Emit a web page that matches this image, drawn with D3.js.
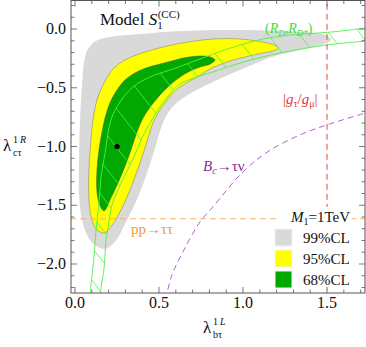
<!DOCTYPE html>
<html><head><meta charset="utf-8">
<script src="https://cdn.jsdelivr.net/npm/d3@7"></script>
<style>
html,body{margin:0;padding:0;background:#fff;}
text{font-family:"Liberation Serif","Times New Roman",serif;}
</style></head>
<body><svg id="c" width="366" height="347"></svg>
<script>
// ---------- data ----------
const grayRegion = [[0.179,-1.871],[0.125,-1.845],[0.077,-1.769],[0.042,-1.624],[0.024,-1.412],[0.024,-1.114],[0.030,-0.774],[0.042,-0.476],[0.054,-0.281],[0.077,-0.170],[0.125,-0.102],[0.208,-0.068],[0.387,-0.043],[0.637,-0.017],[0.923,-0.0085],[1.220,-0.017],[1.429,-0.034],[1.506,-0.060],[1.524,-0.094],[1.482,-0.128],[1.339,-0.179],[1.190,-0.230],[1.024,-0.323],[0.821,-0.451],[0.643,-0.587],[0.565,-0.689],[0.518,-0.816],[0.482,-0.986],[0.435,-1.199],[0.375,-1.429],[0.304,-1.641],[0.238,-1.811]];
const yellowRegion = [[0.173,-1.735],[0.131,-1.709],[0.101,-1.624],[0.083,-1.454],[0.083,-1.199],[0.095,-0.944],[0.107,-0.774],[0.131,-0.604],[0.161,-0.493],[0.196,-0.400],[0.238,-0.323],[0.298,-0.264],[0.363,-0.221],[0.500,-0.162],[0.637,-0.119],[0.821,-0.085],[0.982,-0.085],[1.119,-0.111],[1.185,-0.136],[1.208,-0.162],[1.179,-0.187],[1.119,-0.204],[1.012,-0.238],[0.923,-0.272],[0.815,-0.332],[0.726,-0.408],[0.625,-0.493],[0.577,-0.553],[0.536,-0.629],[0.494,-0.714],[0.464,-0.799],[0.435,-0.927],[0.399,-1.088],[0.357,-1.259],[0.315,-1.412],[0.274,-1.539],[0.226,-1.658]];
const greenRegion = [[0.173,-1.548],[0.149,-1.505],[0.131,-1.386],[0.131,-1.199],[0.143,-1.029],[0.161,-0.876],[0.179,-0.757],[0.208,-0.629],[0.250,-0.519],[0.298,-0.434],[0.357,-0.374],[0.423,-0.332],[0.506,-0.298],[0.577,-0.272],[0.643,-0.247],[0.744,-0.230],[0.804,-0.238],[0.833,-0.264],[0.804,-0.298],[0.744,-0.323],[0.685,-0.357],[0.625,-0.408],[0.565,-0.476],[0.506,-0.561],[0.452,-0.655],[0.405,-0.757],[0.369,-0.876],[0.333,-1.029],[0.298,-1.165],[0.256,-1.310],[0.214,-1.437]];
const bandInner = [[0.089,-2.253],[0.113,-1.939],[0.125,-1.709],[0.143,-1.480],[0.155,-1.259],[0.179,-1.054],[0.214,-0.774],[0.268,-0.621],[0.345,-0.493],[0.446,-0.408],[0.565,-0.349],[0.696,-0.281],[0.839,-0.204],[0.982,-0.136],[1.119,-0.085],[1.280,-0.051],[1.518,-0.026],[1.732,0.0085]];
const bandOuter = [[0.149,-2.253],[0.173,-2.032],[0.185,-1.794],[0.202,-1.641],[0.220,-1.497],[0.256,-1.369],[0.304,-1.224],[0.351,-1.088],[0.393,-0.944],[0.440,-0.816],[0.494,-0.689],[0.554,-0.570],[0.625,-0.468],[0.726,-0.408],[0.839,-0.357],[0.982,-0.289],[1.220,-0.204],[1.500,-0.136],[1.732,-0.102]];
const bcCurve = [[0.540,-2.30],[0.575,-2.10],[0.643,-1.896],[0.744,-1.641],[0.821,-1.514],[0.988,-1.233],[1.137,-1.054],[1.339,-0.901],[1.536,-0.799],[1.74,-0.71]];
const bestFit = [0.25,-1.0];
const ppLimit = -1.615;
const gtauLimit = 1.5;
const xTickVals = [0, 0.5, 1.0, 1.5];
const xTickLabels = ["0.0","0.5","1.0","1.5"];
const yTickVals = [0, -0.5, -1.0, -1.5, -2.0];
const yTickLabels = ["0.0","\u22120.5","\u22121.0","\u22121.5","\u22122.0"];
const legendLabels = ["99%CL","95%CL","68%CL"];
const legendColors = ["#d9d9d9","#ffff00","#00a800"];

// ---------- scales ----------
const svg = d3.select("#c");
const L=71, R=365, T=0.5, B=293;
const x = d3.scaleLinear().domain([-0.0238,1.726]).range([L,R]);
const y = d3.scaleLinear().domain([-2.247,0.243]).range([B,T]);

svg.append("defs").append("clipPath").attr("id","clip")
  .append("rect").attr("x",L).attr("y",T).attr("width",R-L).attr("height",B-T);
const g = svg.append("g").attr("clip-path","url(#clip)");

const closed = d3.line().x(d=>x(d[0])).y(d=>y(d[1])).curve(d3.curveCatmullRomClosed.alpha(0.5));
const open = d3.line().x(d=>x(d[0])).y(d=>y(d[1])).curve(d3.curveCatmullRom.alpha(0.5));

g.append("path").attr("d",closed(grayRegion)).attr("fill","#d9d9d9").attr("stroke","none");
g.append("path").attr("d",closed(yellowRegion)).attr("fill","#ffff00").attr("stroke","#8a8a6a").attr("stroke-width",0.6);
g.append("path").attr("d",closed(greenRegion)).attr("fill","#00a800").attr("stroke","#3a6a3a").attr("stroke-width",0.6);

// band lines
const bandColor="#4cf04c";
const pin = g.append("path").attr("d",open(bandInner)).attr("fill","none").attr("stroke",bandColor).attr("stroke-width",0.9);
const pout = g.append("path").attr("d",open(bandOuter)).attr("fill","none").attr("stroke",bandColor).attr("stroke-width",0.9);
// hatches
(function(){
  const ni=pin.node(), no=pout.node();
  const Li=ni.getTotalLength(), Lo=no.getTotalLength();
  const outs=[]; for(let s=0;s<=Lo;s+=0.5) outs.push(no.getPointAtLength(s));
  const ang=52*Math.PI/180, dx=Math.cos(ang), dy=Math.sin(ang);
  for(let s=14;s<Li;s+=29){
    const p=ni.getPointAtLength(s);
    let best=null,bd=1e9;
    outs.forEach(q=>{
      const vx=q.x-p.x, vy=q.y-p.y;
      const t=vx*dx+vy*dy; if(t<=0||t>45) return;
      const perp=Math.abs(vx*dy-vy*dx);
      if(perp<bd){bd=perp;best=q;}
    });
    if(best && bd<1.5) g.append("line").attr("x1",p.x).attr("y1",p.y).attr("x2",best.x).attr("y2",best.y)
      .attr("stroke",bandColor).attr("stroke-width",0.8);
  }
})();

// constraint lines
g.append("line").attr("x1",x(-0.03)).attr("x2",x(1.8)).attr("y1",y(ppLimit)).attr("y2",y(ppLimit))
  .attr("stroke","#f7b36a").attr("stroke-width",1).attr("stroke-dasharray","6,4");
g.append("line").attr("x1",x(gtauLimit)).attr("x2",x(gtauLimit)).attr("y1",y(0.3)).attr("y2",y(-2.3))
  .attr("stroke","#e84848").attr("stroke-width",1).attr("stroke-dasharray","6,4");
g.append("path").attr("d",open(bcCurve)).attr("fill","none").attr("stroke","#b064cc").attr("stroke-width",1).attr("stroke-dasharray","6,4");

g.append("circle").attr("cx",x(bestFit[0])).attr("cy",y(bestFit[1])).attr("r",2.6).attr("fill","#000");

// labels in plot
const t1 = svg.append("text").attr("x",100).attr("y",25).attr("font-size",17).attr("fill","#111");
t1.append("tspan").text("Model ");
t1.append("tspan").attr("font-style","italic").text("S");
t1.append("tspan").attr("font-size",11).attr("dy",4).text("1");
t1.append("tspan").attr("font-size",11).attr("dy",-11).attr("dx",-5).text("(CC)");

const t2 = svg.append("text").attr("x",265).attr("y",33).attr("font-size",14).attr("fill","#3de03d");
t2.append("tspan").text("(");
t2.append("tspan").attr("font-style","italic").text("R");
t2.append("tspan").attr("font-style","italic").attr("font-size",9).attr("dy",3).text("D");
t2.append("tspan").attr("dy",-3).text(",");
t2.append("tspan").attr("font-style","italic").text("R");
t2.append("tspan").attr("font-style","italic").attr("font-size",9).attr("dy",3).text("D*");
t2.append("tspan").attr("dy",-3).text(")");

const t3 = svg.append("text").attr("x",283).attr("y",104).attr("font-size",15).attr("fill","#e03a3a");
t3.append("tspan").text("|");
t3.append("tspan").attr("font-style","italic").text("g");
t3.append("tspan").attr("font-size",10).attr("dy",3).text("τ");
t3.append("tspan").attr("dy",-3).text("/");
t3.append("tspan").attr("font-style","italic").text("g");
t3.append("tspan").attr("font-size",10).attr("dy",3).text("μ");
t3.append("tspan").attr("dy",-3).text("|");

const t4 = svg.append("text").attr("x",203).attr("y",171).attr("font-size",15).attr("fill","#8a2a9a");
t4.append("tspan").attr("font-style","italic").text("B");
t4.append("tspan").attr("font-style","italic").attr("font-size",10).attr("dy",3).text("c");
t4.append("tspan").attr("dy",-3).text("→τν");

svg.append("text").attr("x",131).attr("y",234).attr("font-size",15).attr("fill","#f09a3a").text("pp→ττ");

// legend
const lg = svg.append("g");
lg.append("rect").attr("x",279).attr("y",207).attr("width",73).attr("height",82).attr("fill","#fff");
const t5 = lg.append("text").attr("x",350).attr("y",222).attr("font-size",15).attr("text-anchor","end").attr("fill","#111");
t5.append("tspan").attr("font-style","italic").text("M");
t5.append("tspan").attr("font-size",10).attr("dy",3).text("1");
t5.append("tspan").attr("dy",-3).text("=1TeV");
legendLabels.forEach((lab,i)=>{
  lg.append("rect").attr("x",275).attr("y",229+i*21).attr("width",17).attr("height",17)
    .attr("fill",legendColors[i]).attr("stroke","#f4f4f4").attr("stroke-width",1);
  lg.append("text").attr("x",303).attr("y",243+i*21).attr("font-size",15).attr("fill","#111").text(lab);
});

// frame & ticks
svg.append("rect").attr("x",L).attr("y",T).attr("width",R-L).attr("height",B-T).attr("fill","none").attr("stroke","#555").attr("stroke-width",1);
const tk = svg.append("g").attr("stroke","#555").attr("stroke-width",0.8);
d3.range(0,1.75,0.1).forEach(v=>{
  const maj = Math.abs(v*2-Math.round(v*2))<1e-6; const len = maj?6:3.5;
  const px=x(v);
  tk.append("line").attr("x1",px).attr("x2",px).attr("y1",B).attr("y2",B-len);
  tk.append("line").attr("x1",px).attr("x2",px).attr("y1",T).attr("y2",T+len);
});
d3.range(0.2,-2.25,-0.1).forEach(v=>{
  const maj = Math.abs(v*2-Math.round(v*2))<1e-6; const len = maj?6:3.5;
  const py=y(v);
  tk.append("line").attr("y1",py).attr("y2",py).attr("x1",L).attr("x2",L+len);
  tk.append("line").attr("y1",py).attr("y2",py).attr("x1",R).attr("x2",R-len);
});
xTickVals.forEach((v,i)=>{
  svg.append("text").attr("x",x(v)).attr("y",308).attr("text-anchor","middle").attr("font-size",16).attr("fill","#111").text(xTickLabels[i]);
});
yTickVals.forEach((v,i)=>{
  svg.append("text").attr("x",66).attr("y",y(v)+5).attr("text-anchor","end").attr("font-size",16).attr("fill","#111").text(yTickLabels[i]);
});

// axis titles: main symbol, superscript and subscript as separate non-overlapping texts
function axisTitle(x0, base, sub, sup1, sup2){
  svg.append("text").attr("x",x0).attr("y",base).attr("font-size",17).attr("fill","#111").text("λ");
  svg.append("text").attr("x",x0+10).attr("y",base+5).attr("font-size",10).attr("fill","#111").text(sub);
  const s = svg.append("text").attr("x",x0+10).attr("y",base-8).attr("font-size",10).attr("fill","#111");
  s.append("tspan").text(sup1);
  s.append("tspan").attr("font-style","italic").attr("dx",2).text(sup2);
}
axisTitle(203, 333, "bτ", "1", "L");
axisTitle(3, 151, "cτ", "1", "R");
</script></body></html>
